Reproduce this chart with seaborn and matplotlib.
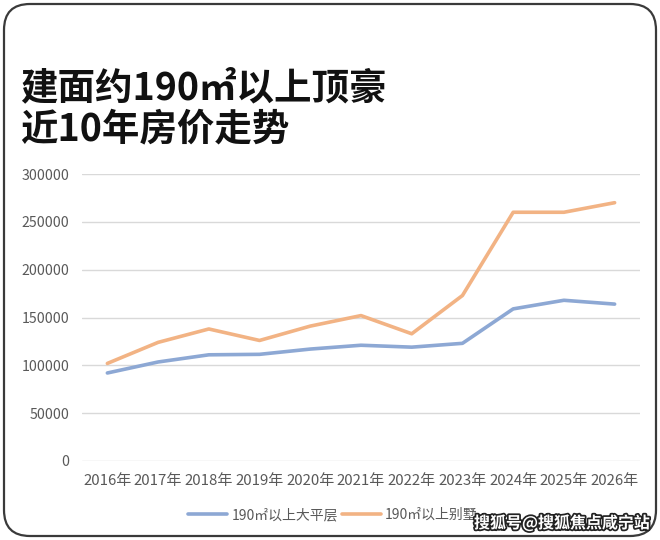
import matplotlib
matplotlib.use("Agg")
import matplotlib.pyplot as plt
import matplotlib.patheffects as pe
from matplotlib.patches import FancyBboxPatch
from matplotlib.lines import Line2D
import seaborn as sns
import pandas as pd

years = ["2016年", "2017年", "2018年", "2019年", "2020年", "2021年",
         "2022年", "2023年", "2024年", "2025年", "2026年"]
flat_name = "190㎡以上大平层"
villa_name = "190㎡以上别墅"
flat_values = [92000, 103500, 111000, 111500, 117000, 121000,
               119000, 123000, 159000, 168000, 164000]
villa_values = [102000, 124000, 138000, 126000, 141000, 152000,
                133000, 173000, 260000, 260000, 270000]
y_ticks = [0, 50000, 100000, 150000, 200000, 250000, 300000]
title_lines = ["建面约190㎡以上顶豪", "近10年房价走势"]
watermark = "搜狐号@搜狐焦点咸宁站"

df = pd.DataFrame({
    "year": years * 2,
    "price": flat_values + villa_values,
    "series": [flat_name] * len(years) + [villa_name] * len(years),
})

sns.set_theme(style="white")
plt.rcParams["font.family"] = ["Noto Sans CJK SC", "DejaVu Sans"]

fig = plt.figure(figsize=(6.6, 5.4), dpi=100)
fig.patch.set_facecolor("white")

frame = FancyBboxPatch((0.04, 0.04), 6.52, 5.32,
                       boxstyle="round,pad=0,rounding_size=0.26",
                       transform=fig.dpi_scale_trans, facecolor="none",
                       edgecolor="#3a3a3a", linewidth=1.6, zorder=5)
fig.patches.append(frame)

ax = fig.add_axes([82 / 660, 1 - 461 / 540, (640 - 82) / 660, (461 - 174) / 540])
ax.set_facecolor("none")

palette = {flat_name: "#8DA8D4", villa_name: "#F2B384"}
sns.lineplot(data=df, x="year", y="price", hue="series", palette=palette,
             linewidth=2.6, ax=ax, sort=False, legend=False)

ax.set_xlim(-0.5, len(years) - 0.5)
ax.set_ylim(0, 300000)
ax.set_yticks(y_ticks)
ax.set_yticklabels([str(v) for v in y_ticks])
ax.grid(axis="y", color="#D9D9D9", linewidth=1.0)
ax.grid(axis="x", visible=False)
ax.set_axisbelow(True)
for s in ax.spines.values():
    s.set_visible(False)
ax.tick_params(axis="both", length=0, labelcolor="#595959")
ax.tick_params(axis="y", pad=9, labelsize=10.2)
ax.tick_params(axis="x", pad=9, labelsize=10.8)
ax.set_xlabel("")
ax.set_ylabel("")

handles = [Line2D([0], [0], color=palette[flat_name], linewidth=2.6),
           Line2D([0], [0], color=palette[villa_name], linewidth=2.6)]
fig.legend(handles, [flat_name, villa_name], loc="center",
           bbox_to_anchor=(333 / 660, 1 - 515 / 540), ncol=2, frameon=False,
           fontsize=10, handlelength=2.8, handletextpad=0.3,
           columnspacing=0.3, labelcolor="#595959")

fig.text(20 / 660, 1 - 99 / 540, title_lines[0], fontsize=27, fontweight="bold",
         color="#111111", ha="left", va="baseline")
fig.text(20 / 660, 1 - 140 / 540, title_lines[1], fontsize=27, fontweight="bold",
         color="#111111", ha="left", va="baseline")

fig.text(650 / 660, 1 - 523 / 540, watermark, fontsize=11.5, fontweight="bold",
         color="white", ha="right", va="center", zorder=6,
         path_effects=[pe.withStroke(linewidth=2.5, foreground="#222222")])

fig.savefig("out.png", dpi=100, facecolor="white")
